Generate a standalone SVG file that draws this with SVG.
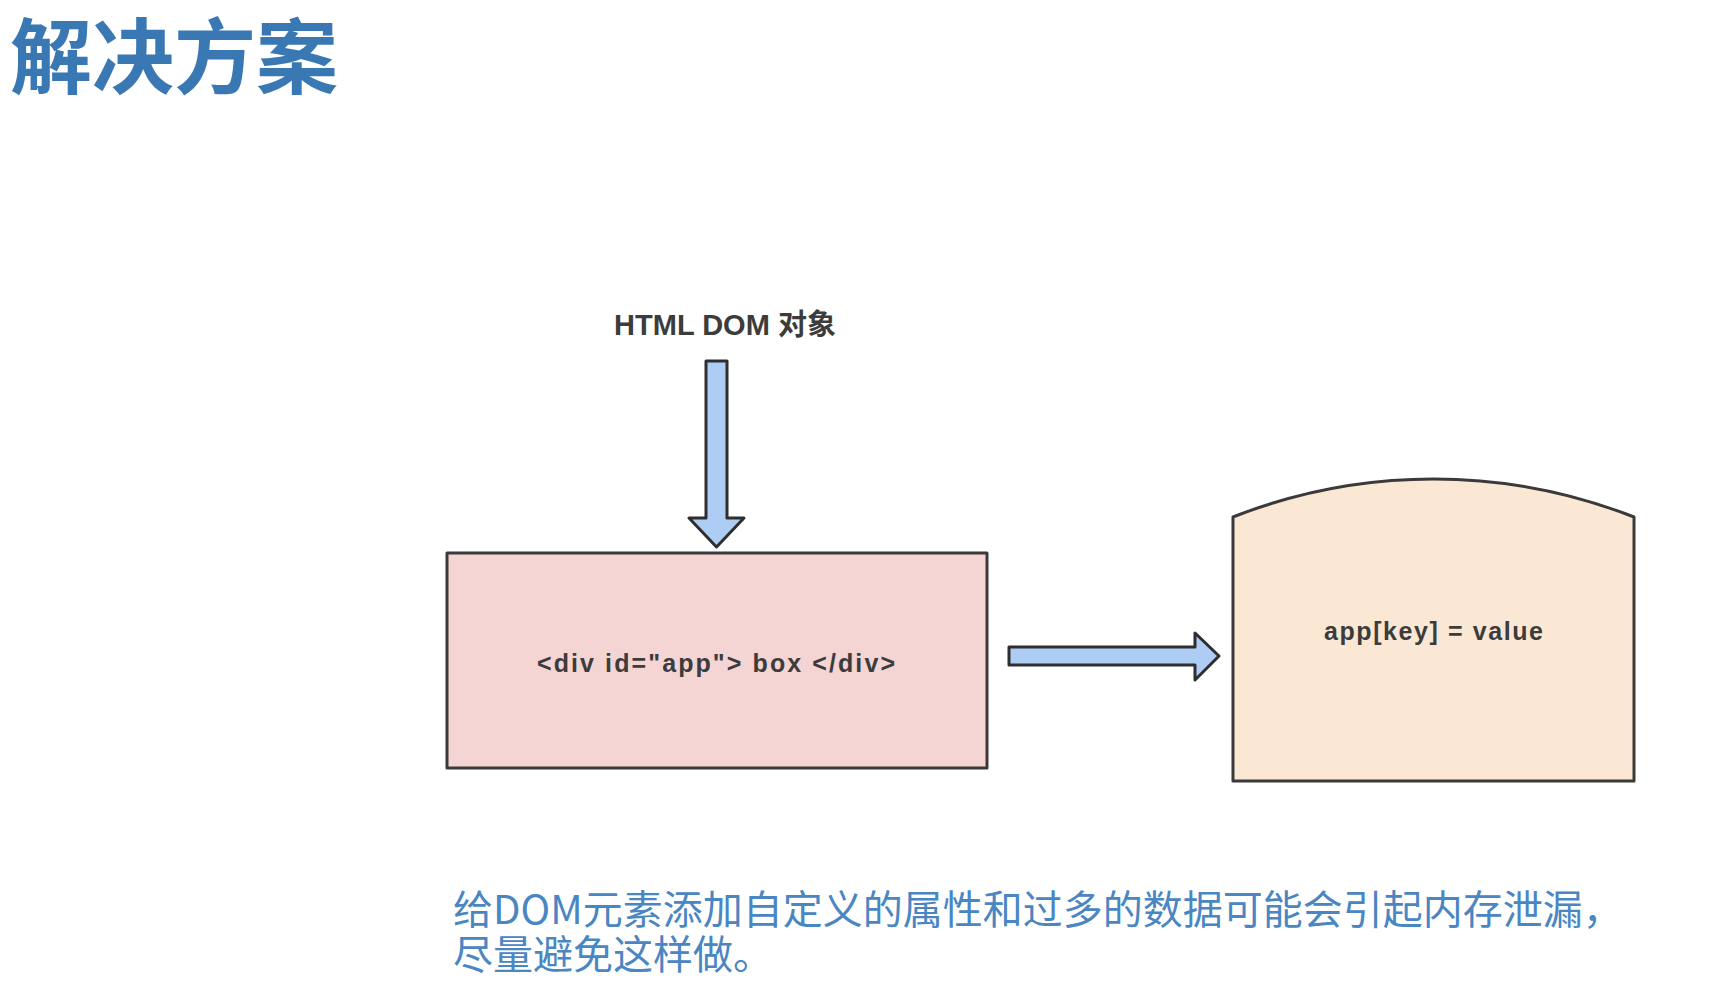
<svg xmlns="http://www.w3.org/2000/svg" width="1726" height="998" viewBox="0 0 1726 998">
<style>
.title{font-family:"Noto Sans CJK SC","Noto Sans",sans-serif;font-weight:700;font-size:82px;fill:#3a78b4}
.lbl{font-family:"Liberation Sans","Noto Sans CJK SC",sans-serif;font-weight:700;fill:#3c3c3c}
.note{font-family:"Noto Sans CJK SC","Noto Sans",sans-serif;font-size:40px;fill:#4a86c2}
.shape{stroke:#3a3a3a;stroke-width:3;stroke-linejoin:round}
.arrow{fill:#aecdf4;stroke:#2e2e2e;stroke-width:3;stroke-linejoin:round}
</style>
<rect width="1726" height="998" fill="#ffffff"/>
<text class="title" x="10" y="87">解决方案</text>
<g id="label-dom">
<text class="lbl" x="725" y="335" font-size="29" text-anchor="middle" fill="#444">HTML DOM 对象</text>
</g>
<g id="node-div">
<rect class="shape" x="447" y="553" width="540" height="215" fill="#f5d4d4"/>
<text class="lbl" x="716" y="672" font-size="25" text-anchor="middle" textLength="358" lengthAdjust="spacing">&lt;div id="app"&gt; box &lt;/div&gt;</text>
</g>
<g id="node-store">
<path class="shape" d="M1233,517 A548,548 0 0 1 1634,517 L1634,781 L1233,781 Z" fill="#fbe8d4"/>
<text class="lbl" x="1433.5" y="640" font-size="25" text-anchor="middle" textLength="219" lengthAdjust="spacing">app[key] = value</text>
</g>
<g id="connectors">
<path class="arrow" d="M706,361 L727,361 L727,518 L744,518 L716.5,547 L689,518 L706,518 Z"/>
<path class="arrow" d="M1009,647 L1195,647 L1195,633 L1219,656 L1195,680 L1195,665 L1009,665 Z"/>
</g>
<g id="note">
<text class="note" x="453" y="924">给DOM元素添加自定义的属性和过多的数据可能会引起内存泄漏，</text>
<text class="note" x="453" y="969">尽量避免这样做。</text>
</g>
</svg>
